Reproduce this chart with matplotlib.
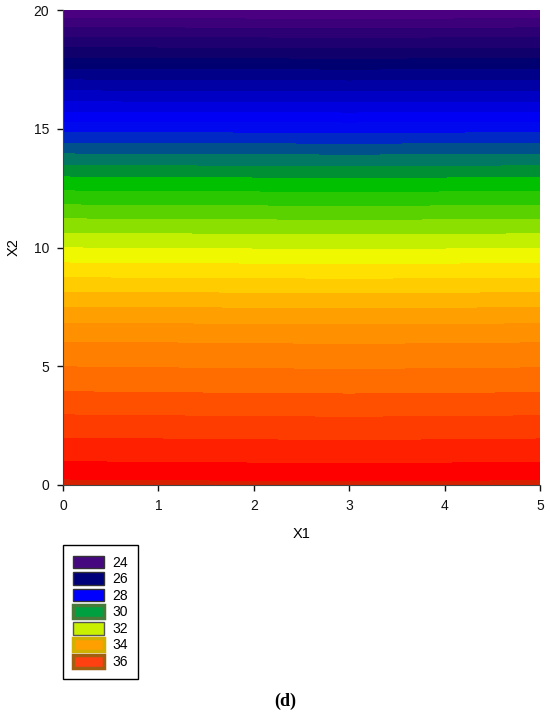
import numpy as np

import matplotlib

matplotlib.use("Agg")
import matplotlib.pyplot as plt
from matplotlib.patches import Patch

# * grid
x1_values = [0, 1, 2, 3, 4, 5]
x2_values = list(range(0, 21))

# * response along X2 at X1 = 0
z_profile = [
    37.11, 36.59, 36.19, 35.78, 35.37, 34.99, 34.61, 34.11, 33.48, 32.82, 32.19,
    31.54, 30.86, 30.18, 29.35, 28.47, 27.52, 26.65, 25.78, 24.87, 23.84,
]
# * small shift across X1 (bands sag a little in the middle)
z_shift_x1 = [0.0, -0.015, -0.03, -0.04, -0.03, -0.015]

# * contour edges: 0.4 steps, outer edges open
inner_levels = list(np.round(24.2 + 0.4 * np.arange(33), 2))
levels = [23.0] + inner_levels + [38.0]

# * band colours, lowest value (top of the plot) first
band_colors = [
    "#4b0082", "#3c007a", "#2c0074", "#1e0070", "#10006c", "#000070",
    "#000088", "#0000a4", "#0000c4", "#0000de", "#0000f4", "#0008f0",
    "#0028c4", "#00508c", "#007862", "#009034", "#00c000", "#2ac800",
    "#5ad200", "#8ce000", "#c2f000", "#f0f800", "#ffe000", "#ffcc00",
    "#ffb400", "#ffa000", "#ff9000", "#ff8000", "#ff6c00", "#ff5000",
    "#ff3c00", "#ff2000", "#ff0000", "#d82000",
]

legend_values = [24, 26, 28, 30, 32, 34, 36]
legend_face = ["#45087f", "#00007a", "#0000ff", "#00a040", "#c8f000", "#ffa000", "#ff4010"]
legend_edge = ["#333333", "#333333", "#333333", "#4a7a3a", "#555555", "#d0b000", "#a06010"]
legend_lw = [1.0, 1.0, 1.0, 2.5, 1.0, 2.5, 2.5]

plt.rcParams["font.family"] = ["Liberation Sans", "DejaVu Sans"]

fig = plt.figure(figsize=(5.5, 7.22), dpi=100)
ax = fig.add_axes([0.1145, 0.3283, 0.8673, 0.6578])

X1, X2 = np.meshgrid(x1_values, x2_values)
Z = np.array(z_profile)[:, None] + np.array(z_shift_x1)[None, :]

ax.contourf(X1, X2, Z, levels=levels, colors=band_colors, antialiased=False)

ax.set_xlim(0, 5)
ax.set_ylim(0, 20)
ax.set_xticks(range(0, 6))
ax.set_yticks([0, 5, 10, 15, 20])
ax.tick_params(direction="out", length=4, width=1, labelsize=10, pad=6, colors="#111111")
ax.spines["top"].set_visible(False)
ax.spines["right"].set_visible(False)
ax.spines["left"].set_color("#444444")
ax.spines["bottom"].set_color("#444444")

ax.set_xlabel("X1", fontsize=10.5, labelpad=10)
ax.set_ylabel("X2", fontsize=10.5, labelpad=9)

# * legend below the plot
handles = [
    Patch(facecolor=f, edgecolor=e, linewidth=w, label=str(v))
    for v, f, e, w in zip(legend_values, legend_face, legend_edge, legend_lw)
]
fig.legend(
    handles=handles,
    loc="upper left",
    bbox_to_anchor=(0.1145, 0.245),
    borderaxespad=0.0,
    fontsize=10,
    frameon=True,
    fancybox=False,
    edgecolor="black",
    framealpha=1,
    handlelength=2.2,
    handleheight=1.05,
    labelspacing=0.17,
    handletextpad=0.6,
    borderpad=0.75,
)

fig.text(0.518, 0.028, "(d)", fontsize=13, fontweight="bold",
         family=["Liberation Serif", "DejaVu Serif"], ha="center", va="center")

plt.savefig("out.png", dpi=100)
plt.close()
